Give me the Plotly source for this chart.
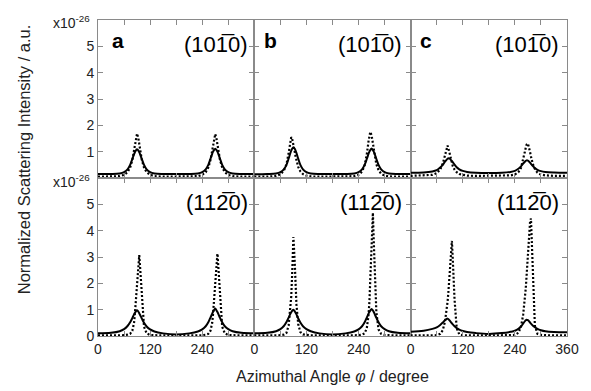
import plotly.graph_objects as go
from plotly.subplots import make_subplots

# Azimuthal angle grid (degrees)
ANGLE = [0, 30, 50, 60, 68, 74, 79, 83, 85, 87, 90, 93, 95, 97, 101, 106, 112, 120, 130, 150,
         180, 210, 230, 240, 248, 254, 259, 263, 265, 267, 270, 273, 275, 277, 281, 286, 292,
         300, 310, 330, 360]

# (10-10) reflection, top row  (x1e-26)
a_1010_solid = [0.15, 0.15, 0.17, 0.22, 0.33, 0.50, 0.72, 0.90, 0.98, 1.04, 1.09, 1.04, 0.98, 0.90, 0.72, 0.50, 0.33, 0.22, 0.17, 0.15,
                0.15, 0.15, 0.17, 0.22, 0.33, 0.50, 0.73, 0.92, 1.00, 1.06, 1.11, 1.06, 1.00, 0.92, 0.73, 0.50, 0.33, 0.22, 0.17, 0.15, 0.15]
a_1010_dot = [0.05, 0.05, 0.07, 0.12, 0.22, 0.40, 0.68, 1.05, 1.28, 1.50, 1.69, 1.50, 1.28, 1.05, 0.68, 0.40, 0.22, 0.12, 0.07, 0.05,
              0.05, 0.05, 0.07, 0.12, 0.22, 0.40, 0.68, 1.04, 1.27, 1.48, 1.67, 1.48, 1.27, 1.04, 0.68, 0.40, 0.22, 0.12, 0.07, 0.05, 0.05]
b_1010_solid = [0.14, 0.15, 0.17, 0.22, 0.33, 0.50, 0.74, 0.95, 1.04, 1.11, 1.17, 1.11, 1.04, 0.95, 0.74, 0.50, 0.33, 0.22, 0.17, 0.15,
                0.15, 0.15, 0.17, 0.22, 0.33, 0.50, 0.72, 0.92, 1.00, 1.06, 1.12, 1.06, 1.00, 0.92, 0.72, 0.50, 0.33, 0.22, 0.17, 0.15, 0.15]
b_1010_dot = [0.05, 0.05, 0.08, 0.14, 0.28, 0.52, 0.95, 1.40, 1.55, 1.50, 1.30, 1.00, 0.82, 0.65, 0.42, 0.25, 0.15, 0.09, 0.06, 0.05,
              0.05, 0.05, 0.07, 0.12, 0.24, 0.48, 0.90, 1.40, 1.62, 1.75, 1.62, 1.30, 1.05, 0.85, 0.52, 0.30, 0.16, 0.09, 0.06, 0.05, 0.05]
c_1010_solid = [0.20, 0.21, 0.25, 0.30, 0.40, 0.50, 0.62, 0.70, 0.73, 0.75, 0.73, 0.68, 0.64, 0.60, 0.51, 0.41, 0.33, 0.27, 0.23, 0.20,
                0.19, 0.20, 0.23, 0.27, 0.35, 0.44, 0.55, 0.62, 0.65, 0.67, 0.66, 0.62, 0.58, 0.54, 0.46, 0.38, 0.31, 0.26, 0.23, 0.21, 0.20]
c_1010_dot = [0.08, 0.09, 0.12, 0.18, 0.32, 0.55, 0.90, 1.20, 1.23, 1.12, 0.90, 0.68, 0.55, 0.45, 0.32, 0.22, 0.15, 0.11, 0.09, 0.08,
              0.08, 0.08, 0.10, 0.13, 0.22, 0.38, 0.68, 1.00, 1.15, 1.27, 1.31, 1.15, 0.98, 0.82, 0.55, 0.34, 0.20, 0.13, 0.10, 0.08, 0.08]

# (11-20) reflection, bottom row  (x1e-26)
a_1120_solid = [0.10, 0.12, 0.18, 0.26, 0.38, 0.52, 0.68, 0.82, 0.88, 0.93, 0.98, 0.92, 0.86, 0.80, 0.66, 0.50, 0.36, 0.25, 0.17, 0.10,
                0.06, 0.10, 0.17, 0.25, 0.37, 0.52, 0.70, 0.85, 0.92, 0.98, 1.04, 0.97, 0.91, 0.84, 0.69, 0.52, 0.37, 0.26, 0.18, 0.12, 0.10]
a_1120_dot = [0.02, 0.02, 0.02, 0.03, 0.05, 0.08, 0.20, 0.50, 0.85, 1.30, 2.10, 2.75, 3.07, 2.60, 1.40, 0.35, 0.10, 0.04, 0.03, 0.02,
              0.02, 0.02, 0.02, 0.03, 0.05, 0.08, 0.20, 0.50, 0.85, 1.30, 2.15, 2.80, 3.13, 2.65, 1.40, 0.35, 0.10, 0.04, 0.03, 0.02, 0.02]
b_1120_solid = [0.10, 0.12, 0.18, 0.26, 0.38, 0.53, 0.70, 0.84, 0.90, 0.95, 1.00, 0.94, 0.88, 0.82, 0.67, 0.51, 0.37, 0.26, 0.18, 0.10,
                0.06, 0.10, 0.17, 0.25, 0.37, 0.52, 0.70, 0.85, 0.91, 0.96, 1.03, 0.97, 0.91, 0.84, 0.69, 0.52, 0.37, 0.26, 0.18, 0.12, 0.10]
b_1120_dot = [0.02, 0.02, 0.02, 0.03, 0.05, 0.12, 0.40, 1.00, 1.50, 2.30, 3.76, 2.80, 1.90, 1.20, 0.45, 0.15, 0.06, 0.03, 0.02, 0.02,
              0.02, 0.02, 0.02, 0.03, 0.05, 0.10, 0.30, 0.80, 1.30, 2.10, 3.60, 4.68, 3.60, 2.40, 0.90, 0.25, 0.08, 0.04, 0.03, 0.02, 0.02]
c_1120_solid = [0.16, 0.20, 0.27, 0.33, 0.42, 0.51, 0.60, 0.65, 0.66, 0.64, 0.58, 0.52, 0.48, 0.44, 0.37, 0.30, 0.24, 0.19, 0.15, 0.11,
                0.08, 0.11, 0.16, 0.20, 0.27, 0.36, 0.47, 0.56, 0.60, 0.62, 0.60, 0.55, 0.51, 0.47, 0.40, 0.33, 0.27, 0.22, 0.18, 0.15, 0.14]
c_1120_dot = [0.02, 0.02, 0.02, 0.03, 0.08, 0.22, 0.55, 1.00, 1.30, 1.70, 2.40, 3.30, 3.61, 2.90, 1.40, 0.30, 0.06, 0.03, 0.02, 0.02,
              0.02, 0.02, 0.02, 0.04, 0.12, 0.35, 0.80, 1.40, 1.80, 2.30, 3.10, 3.90, 4.35, 4.46, 2.40, 0.40, 0.08, 0.04, 0.03, 0.02, 0.02]

PANEL_LETTERS = ["a", "b", "c"]
REFLECTIONS = ["(101\u03050)", "(112\u03050)"]
X_TICKS = [0, 60, 120, 180, 240, 300, 360]
X_TEXT_AB = ["0", " ", "120", " ", "240", " ", " "]
X_TEXT_C = ["0", " ", "120", " ", "240", " ", "360"]
Y_TICKS = [0, 1, 2, 3, 4, 5, 6]
Y_TEXT_TOP = [" ", "1", "2", "3", "4", "5", " "]
Y_TEXT_BOT = ["0", "1", "2", "3", "4", "5", " "]

series = [
    [(a_1010_solid, a_1010_dot), (b_1010_solid, b_1010_dot), (c_1010_solid, c_1010_dot)],
    [(a_1120_solid, a_1120_dot), (b_1120_solid, b_1120_dot), (c_1120_solid, c_1120_dot)],
]

FONT = "Liberation Sans, Arial, Helvetica, sans-serif"
AXC = "#8a8a8a"

fig = make_subplots(rows=2, cols=3, horizontal_spacing=0, vertical_spacing=0)

for r in range(2):
    for c in range(3):
        solid, dot = series[r][c]
        fig.add_trace(go.Scatter(x=ANGLE, y=dot, mode="lines",
                                 line=dict(color="black", width=2.2, dash="2px,2px"),
                                 showlegend=False, hoverinfo="skip"), row=r + 1, col=c + 1)
        fig.add_trace(go.Scatter(x=ANGLE, y=solid, mode="lines", line_shape="spline",
                                 line=dict(color="black", width=2),
                                 showlegend=False, hoverinfo="skip"), row=r + 1, col=c + 1)
        fig.update_xaxes(range=[0, 360], tickmode="array", tickvals=X_TICKS,
                         ticktext=X_TEXT_C if c == 2 else X_TEXT_AB,
                         showticklabels=(r == 1), ticks="inside", ticklen=5, tickcolor=AXC,
                         showline=True, linecolor=AXC, linewidth=1, mirror="ticks",
                         showgrid=False, zeroline=False,
                         tickfont=dict(family=FONT, size=14, color="#222"),
                         row=r + 1, col=c + 1)
        fig.update_yaxes(range=[0, 6], tickmode="array", tickvals=Y_TICKS,
                         ticktext=Y_TEXT_TOP if r == 0 else Y_TEXT_BOT,
                         showticklabels=(c == 0), ticks="inside", ticklen=5, tickcolor=AXC,
                         showline=True, linecolor=AXC, linewidth=1, mirror="ticks",
                         showgrid=False, zeroline=False,
                         tickfont=dict(family=FONT, size=14, color="#222"),
                         row=r + 1, col=c + 1)

# plot area: x 98..577 px, y 17..336 px
def px(xp):
    return (xp - 98) / 479.0

def py(yp):
    return (336 - yp) / 319.0

ann = []
letter_x = [110, 266, 425]
refl_right = [253, 411, 571]
for c in range(3):
    ann.append(dict(x=px(letter_x[c]), y=py(38), xref="paper", yref="paper", text="<b>%s</b>" % PANEL_LETTERS[c],
                    showarrow=False, xanchor="left", yanchor="middle", font=dict(family=FONT, size=21, color="black")))
    ann.append(dict(x=px(refl_right[c]), y=py(42), xref="paper", yref="paper", text=REFLECTIONS[0],
                    showarrow=False, xanchor="right", yanchor="middle", font=dict(family=FONT, size=22, color="black")))
    ann.append(dict(x=px(refl_right[c]), y=py(201), xref="paper", yref="paper", text=REFLECTIONS[1],
                    showarrow=False, xanchor="right", yanchor="middle", font=dict(family=FONT, size=22, color="black")))

for yy in (19, 180):
    ann.append(dict(x=px(92), y=py(yy), xref="paper", yref="paper", text="x10<sup>-26</sup>",
                    showarrow=False, xanchor="right", yanchor="middle", font=dict(family=FONT, size=14, color="#222")))

ann.append(dict(x=px(337), y=py(377), xref="paper", yref="paper", text="Azimuthal Angle <i>\u03c6</i> / degree",
                showarrow=False, xanchor="center", yanchor="middle", font=dict(family=FONT, size=16, color="#222")))
ann.append(dict(x=px(22), y=py(158), xref="paper", yref="paper", text="Normalized Scattering Intensity / a.u.",
                showarrow=False, xanchor="center", yanchor="middle", textangle=-90,
                font=dict(family=FONT, size=16.5, color="#222")))

fig.update_layout(width=591, height=391, margin=dict(l=98, r=14, t=17, b=55),
                  paper_bgcolor="white", plot_bgcolor="white", annotations=ann)

fig.write_html("out.html", config={"displayModeBar": False},
               post_script="document.body.style.margin='0';document.body.style.padding='0';")
